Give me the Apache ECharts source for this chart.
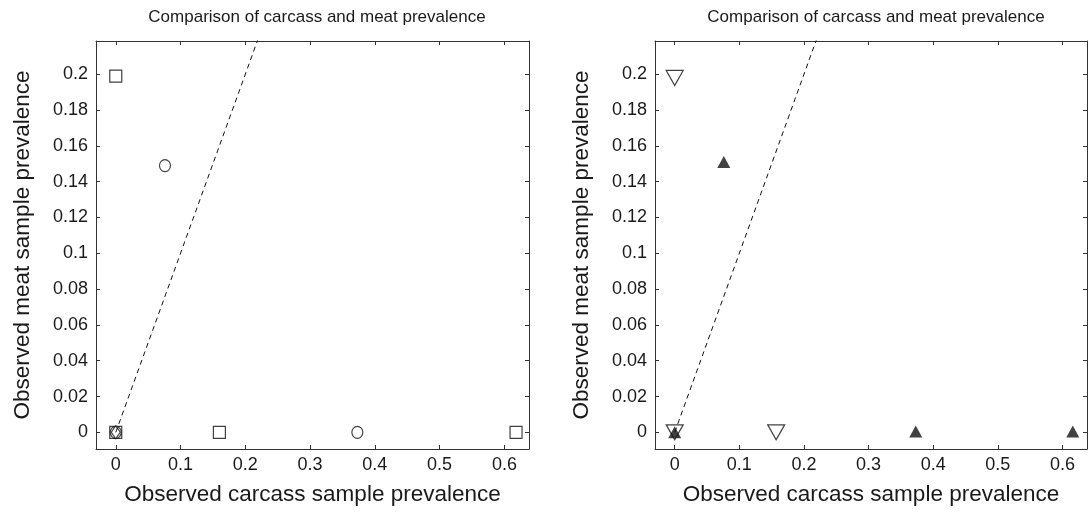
<!DOCTYPE html>
<html><head><meta charset="utf-8">
<script src="https://cdn.jsdelivr.net/npm/echarts@6/dist/echarts.min.js"></script>
<style>html,body{margin:0;padding:0;background:#fff}#c{width:1089px;height:517px}</style>
</head><body><div id="c"></div>
<script>
var titleText = 'Comparison of carcass and meat prevalence';
var xName = 'Observed carcass sample prevalence';
var yName = 'Observed meat sample prevalence';
var xTicks = [0, 0.1, 0.2, 0.3, 0.4, 0.5, 0.6];
var yTicks = [0, 0.02, 0.04, 0.06, 0.08, 0.1, 0.12, 0.14, 0.16, 0.18, 0.2];
var identityLine = [[0, 0], [0.3, 0.3]];
// left panel
var leftSquares = [[0, 0.199], [0, 0], [0.16, 0], [0.618, 0]];
var leftCircles = [[0.076, 0.149], [0, 0], [0.373, 0]];
var leftDiamonds = [[0, 0]];
// right panel
var rightOpenDown = [[0, 0.198], [0, 0], [0.157, 0]];
var rightFilledUp = [[0.076, 0.151], [0, 0], [0.373, 0.0005], [0.616, 0.0005]];

var X_MIN = -0.0305, X_MAX = 0.638, Y_MIN = -0.0093, Y_MAX = 0.2186;
var FONT = 'Liberation Sans';
var fmt = function (v) { return String(Math.round(v * 100) / 100); };

function xAxisDef(gi, pos) {
  var bottom = pos === 'bottom';
  return {
    type: 'value', gridIndex: gi, position: pos, min: X_MIN, max: X_MAX,
    name: bottom ? xName : '', nameLocation: 'middle', nameGap: 34,
    nameTextStyle: {fontFamily: FONT, fontSize: 22.5, color: '#1a1a1a'},
    axisLine: {show: true, onZero: false, lineStyle: {color: '#333', width: 1}},
    axisTick: {show: true, inside: true, length: 4, customValues: xTicks, lineStyle: {color: '#333'}},
    axisLabel: {show: bottom, customValues: xTicks, formatter: fmt, margin: 7,
      fontFamily: FONT, fontSize: 18, color: '#1a1a1a'},
    splitLine: {show: false}
  };
}
function yAxisDef(gi, pos) {
  var left = pos === 'left';
  return {
    type: 'value', gridIndex: gi, position: pos, min: Y_MIN, max: Y_MAX,
    name: left ? yName : '', nameLocation: 'middle', nameGap: 62, nameRotate: 90,
    nameTextStyle: {fontFamily: FONT, fontSize: 22.5, color: '#1a1a1a'},
    axisLine: {show: true, onZero: false, lineStyle: {color: '#333', width: 1}},
    axisTick: {show: true, inside: true, length: 4, customValues: yTicks, lineStyle: {color: '#333'}},
    axisLabel: {show: left, customValues: yTicks, formatter: fmt, margin: 8,
      fontFamily: FONT, fontSize: 18, color: '#1a1a1a'},
    splitLine: {show: false}
  };
}
var openStyle = {color: '#fff', borderColor: '#111', borderWidth: 1.2};
var chart = echarts.init(document.getElementById('c'), null, {renderer: 'canvas'});
chart.setOption({
  animation: false,
  backgroundColor: '#fff',
  title: [
    {text: titleText, left: 312, top: 4, textAlign: 'center',
      textStyle: {fontFamily: FONT, fontSize: 17, fontWeight: 'normal', color: '#1a1a1a'}},
    {text: titleText, left: 871, top: 4, textAlign: 'center',
      textStyle: {fontFamily: FONT, fontSize: 17, fontWeight: 'normal', color: '#1a1a1a'}}
  ],
  grid: [
    {left: 96, top: 41, width: 433, height: 408},
    {left: 655, top: 41, width: 432, height: 408}
  ],
  xAxis: [xAxisDef(0, 'bottom'), xAxisDef(0, 'top'), xAxisDef(1, 'bottom'), xAxisDef(1, 'top')],
  yAxis: [yAxisDef(0, 'left'), yAxisDef(0, 'right'), yAxisDef(1, 'left'), yAxisDef(1, 'right')],
  series: [
    {type: 'line', xAxisIndex: 0, yAxisIndex: 0, data: identityLine, showSymbol: false, clip: true,
      lineStyle: {color: '#111', width: 1, type: [5, 4]}},
    {type: 'scatter', xAxisIndex: 0, yAxisIndex: 0, data: leftSquares, symbol: 'rect', symbolSize: 12, itemStyle: openStyle},
    {type: 'scatter', xAxisIndex: 0, yAxisIndex: 0, data: leftCircles, symbol: 'circle', symbolSize: [11, 12], itemStyle: openStyle},
    {type: 'scatter', xAxisIndex: 0, yAxisIndex: 0, data: leftDiamonds, symbol: 'diamond', symbolSize: [9, 13], itemStyle: openStyle},
    {type: 'line', xAxisIndex: 2, yAxisIndex: 2, data: identityLine, showSymbol: false, clip: true,
      lineStyle: {color: '#111', width: 1, type: [5, 4]}},
    {type: 'scatter', xAxisIndex: 2, yAxisIndex: 2, data: rightOpenDown, symbol: 'triangle', symbolRotate: 180, symbolSize: [17, 15], itemStyle: openStyle},
    {type: 'scatter', xAxisIndex: 2, yAxisIndex: 2, data: rightFilledUp, symbol: 'triangle', symbolSize: [13, 12], itemStyle: {color: '#111'}}
  ]
});
</script></body></html>
